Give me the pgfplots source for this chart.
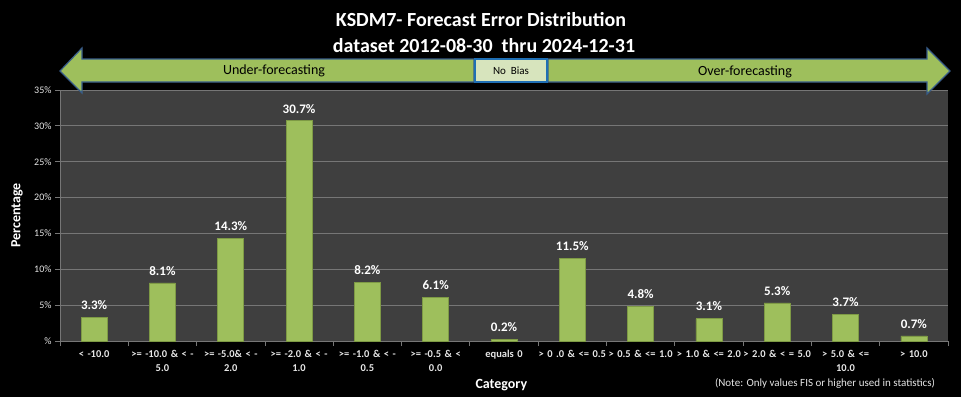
\documentclass[border=0pt]{standalone}
\usepackage{fontspec}
\setmainfont{Carlito}
\usepackage{pgfplots}
\pgfplotsset{compat=1.18}
\definecolor{bargreen}{HTML}{9EBF5C}
\definecolor{baredge}{HTML}{7E9A45}
\definecolor{plotbg}{HTML}{3F3F3F}
\definecolor{gridgray}{HTML}{767676}
\definecolor{arrowborder}{HTML}{385D8A}
\definecolor{nobiasfill}{HTML}{D7E4BD}
\definecolor{nobiasborder}{HTML}{1F6FB4}
\definecolor{ticktext}{HTML}{E6E6E6}
\begin{document}
\begin{tikzpicture}[x=1pt,y=1pt]
\useasboundingbox (0pt,0pt) rectangle (961pt,-397pt);
\fill[black] (0pt,0pt) rectangle (961pt,-397pt);
% titles
\node[text=white,font=\fontsize{20}{22}\selectfont\bfseries] at (481pt,-20pt) {KSDM7-\ Forecast Error Distribution};
\node[text=white,font=\fontsize{20}{22}\selectfont\bfseries] at (484pt,-46pt) {dataset 2012-08-30\ \ thru 2024-12-31};
\begin{axis}[
  at={(60pt,-341pt)}, anchor=south west,
  scale only axis, width=888pt, height=251pt,
  xmin=-0.5, xmax=12.5, ymin=0, ymax=35,
  ybar, bar width=26pt,
  axis background/.style={fill=plotbg},
  axis x line*=bottom, axis y line*=left,
  axis line style={gridgray, line width=0.8pt},
  every outer x axis line/.append style={-},
  every outer y axis line/.append style={-},
  ytick={0,5,...,35},
  yticklabels={\%,5\%,10\%,15\%,20\%,25\%,30\%,35\%},
  ymajorgrids, grid style={gridgray, line width=0.8pt},
  xtick={0,...,12},
  major x tick style={draw=none},
  minor xtick={-0.5,0.5,...,12.5},
  minor x tick style={gridgray, line width=0.8pt},
  minor tick length=5pt,
  major tick length=5pt,
  tick align=outside,
  ytick style={gridgray, line width=0.8pt},
  xminorgrids=false,
  xticklabels={{< -10.0},{>= -10.0 \& < -\\5.0},{>= -5.0\& < -\\2.0},{>= -2.0 \& < -\\1.0},{>= -1.0 \& < -\\0.5},{>= -0.5 \& <\\0.0},{equals 0},{> 0 .0 \& <= 0.5},{> 0.5 \& <= 1.0},{> 1.0 \& <= 2.0},{> 2.0 \& < = 5.0},{> 5.0 \& <=\\10.0},{> 10.0}},
  xticklabel style={text=ticktext, font=\fontsize{10.5}{14}\selectfont\bfseries, align=center, text width=74pt, yshift=-1pt},
  yticklabel style={text=ticktext, font=\fontsize{10}{11}\selectfont},
  /pgf/number format/assume math mode=true,
  ylabel={Percentage},
  ylabel style={text=white, font=\fontsize{14}{16}\selectfont\bfseries, at={(axis description cs:0,0.5)}, anchor=center, yshift=43pt},
  xlabel={Category},
  xlabel style={text=white, font=\fontsize{14}{16}\selectfont\bfseries, at={(axis description cs:0.497,0)}, anchor=center, yshift=-44pt},
  nodes near coords={\pgfmathprintnumber[fixed,precision=1,fixed zerofill]{\pgfplotspointmeta}\%},
  every node near coord/.append style={text=white, font=\fontsize{13}{15}\selectfont\bfseries, yshift=4pt},
  clip=false,
]
\addplot[fill=bargreen, draw=baredge, line width=0.7pt] coordinates {
(0,3.3) (1,8.1) (2,14.3) (3,30.7) (4,8.2) (5,6.1) (6,0.2) (7,11.5) (8,4.8) (9,3.1) (10,5.3) (11,3.7) (12,0.7)
};
\end{axis}
% arrows
\draw[fill=bargreen, draw=arrowborder, line width=1.2pt, line join=miter]
  (60pt,-71pt) -- (82pt,-48pt) -- (82pt,-59pt) -- (474pt,-59pt) -- (474pt,-82pt) -- (82pt,-82pt) -- (82pt,-93pt) -- cycle;
\draw[fill=bargreen, draw=arrowborder, line width=1.2pt, line join=miter]
  (950pt,-71pt) -- (927pt,-48pt) -- (927pt,-59pt) -- (548pt,-59pt) -- (548pt,-82pt) -- (927pt,-82pt) -- (927pt,-94pt) -- cycle;
\draw[fill=nobiasfill, draw=nobiasborder, line width=2pt] (475pt,-59pt) rectangle (547pt,-82pt);
\node[font=\fontsize{14}{16}\selectfont] at (274pt,-71pt) {Under-forecasting};
\node[font=\fontsize{14}{16}\selectfont] at (745pt,-72pt) {Over-forecasting};
\node[font=\fontsize{11}{12}\selectfont] at (511pt,-71pt) {No\ \ Bias};
\node[text=ticktext, font=\fontsize{11}{12}\selectfont] at (825pt,-383pt) {(Note: Only values FIS or higher used in statistics)};
\end{tikzpicture}
\end{document}
